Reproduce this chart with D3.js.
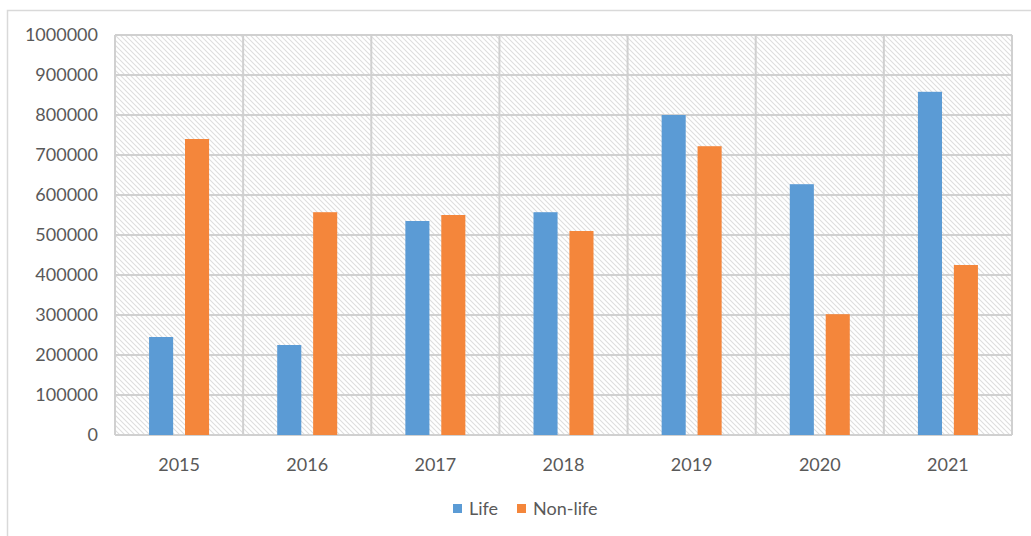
<!DOCTYPE html>
<html>
<head>
<meta charset="utf-8">
<style>
  body { margin: 0; background: #fff; }
  svg text { font-family: Lato, "Open Sans", sans-serif; fill: #595959; }
</style>
</head>
<body>
<svg width="1031" height="536"></svg>
<script src="https://unpkg.com/d3@7/dist/d3.min.js"></script>
<script>
const years = ['2015', '2016', '2017', '2018', '2019', '2020', '2021'];
const life = [245000, 225000, 535000, 557000, 800000, 627000, 858000];
const nonLife = [740000, 557000, 550000, 510000, 722000, 302000, 425000];
const seriesNames = ['Life', 'Non-life'];
const colors = ['#5b9bd5', '#f4863b'];
const yTicks = [0, 100000, 200000, 300000, 400000, 500000, 600000, 700000, 800000, 900000, 1000000];

const svg = d3.select('svg');

// outer chart border
svg.append('rect')
    .attr('x', 7.5).attr('y', 10.5)
    .attr('width', 1030).attr('height', 540)
    .attr('fill', 'none').attr('stroke', '#d9d9d9').attr('stroke-width', 1.5);

const margin = {left: 115, right: 19, top: 35, bottom: 101};
const width = 1031 - margin.left - margin.right;
const height = 536 - margin.top - margin.bottom;

const defs = svg.append('defs');
const pat = defs.append('pattern')
    .attr('id', 'hatch')
    .attr('patternUnits', 'userSpaceOnUse')
    .attr('width', 5).attr('height', 5);
pat.append('path')
    .attr('d', 'M-1,-1 L6,6 M-1,4 L1,6 M4,-1 L6,1')
    .attr('stroke', '#dedede').attr('stroke-width', 1.1);

const g = svg.append('g').attr('transform', `translate(${margin.left},${margin.top})`);

const x = d3.scaleBand().domain(years).range([0, width]);
const y = d3.scaleLinear().domain([0, 1000000]).range([height, 0]);

g.append('rect')
    .attr('width', width).attr('height', height)
    .attr('fill', 'url(#hatch)');

// horizontal gridlines
g.append('g')
    .selectAll('line')
    .data(yTicks)
    .enter().append('line')
    .attr('x1', 0).attr('x2', width)
    .attr('y1', d => y(d)).attr('y2', d => y(d))
    .attr('stroke', '#d0d0d0').attr('stroke-width', 2);

// vertical gridlines at category boundaries
g.append('g')
    .selectAll('line')
    .data(years.map(d => x(d)).concat([width]))
    .enter().append('line')
    .attr('x1', d => d).attr('x2', d => d)
    .attr('y1', 0).attr('y2', height)
    .attr('stroke', '#d0d0d0').attr('stroke-width', 2);

// y labels
g.append('g')
    .selectAll('text')
    .data(yTicks)
    .enter().append('text')
    .attr('x', -17)
    .attr('y', d => y(d))
    .attr('dy', '0.35em')
    .attr('text-anchor', 'end')
    .attr('font-size', 18)
    .text(d => d);

// x labels
g.append('g')
    .selectAll('text')
    .data(years)
    .enter().append('text')
    .attr('x', d => x(d) + x.bandwidth() / 2)
    .attr('y', height + 36)
    .attr('text-anchor', 'middle')
    .attr('font-size', 18)
    .text(d => d);

const inner = d3.scaleBand().domain(seriesNames).range([x.bandwidth() / 2 - 30, x.bandwidth() / 2 + 30]).paddingInner(0.33);

const rows = years.map((yr, i) => ({year: yr, values: [life[i], nonLife[i]]}));

g.append('g')
    .selectAll('g')
    .data(rows)
    .enter().append('g')
    .attr('transform', d => `translate(${x(d.year)},0)`)
    .selectAll('rect')
    .data(d => d.values.map((v, j) => ({name: seriesNames[j], value: v, color: colors[j]})))
    .enter().append('rect')
    .attr('x', d => inner(d.name))
    .attr('width', inner.bandwidth())
    .attr('y', d => y(d.value))
    .attr('height', d => height - y(d.value))
    .attr('fill', d => d.color);

// legend
const legend = svg.append('g').attr('transform', 'translate(453,502)');
const legendX = [0, 64];
seriesNames.forEach((name, i) => {
    const item = legend.append('g').attr('transform', `translate(${legendX[i]},0)`);
    item.append('rect').attr('width', 9).attr('height', 9).attr('y', 2).attr('fill', colors[i]);
    item.append('text').attr('x', 16).attr('y', 7).attr('dy', '0.35em').attr('font-size', 18).text(name);
});
</script>
</body>
</html>
